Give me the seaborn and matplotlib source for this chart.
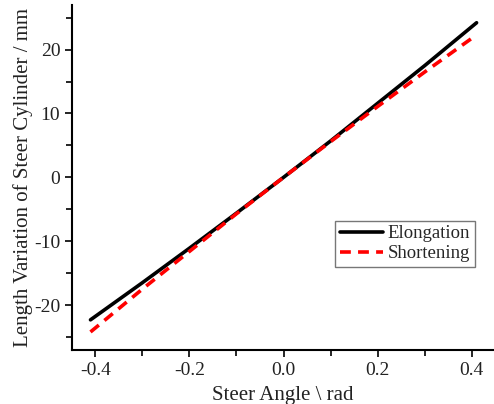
import numpy as np
import pandas as pd
import seaborn as sns
import matplotlib.pyplot as plt
from matplotlib.ticker import MultipleLocator

angle = [-0.41, -0.3, -0.2, -0.1, 0.0, 0.1, 0.2, 0.3, 0.41]
elongation = [-22.3, -16.5, -11.1, -5.6, 0.0, 5.7, 11.6, 17.5, 24.2]
shortening = [-24.2, -17.5, -11.6, -5.7, 0.0, 5.6, 11.1, 16.5, 22.3]

df = pd.DataFrame({"angle": angle, "Elongation": elongation, "Shortening": shortening})

sns.set_style("ticks")
plt.rcParams["font.family"] = ["Liberation Serif", "DejaVu Serif"]
plt.rcParams["axes.unicode_minus"] = False

fig = plt.figure(figsize=(4.94, 4.04), dpi=100)
ax = fig.add_axes([0.146, 0.134, 0.854, 0.854])

sns.lineplot(data=df, x="angle", y="Elongation", color="black", lw=2.6, label="Elongation", ax=ax)
sns.lineplot(data=df, x="angle", y="Shortening", color="#ff0000", lw=2.6, ls=(0, (3, 2)), label="Shortening", ax=ax)

ax.set_xlim(-0.449, 0.447)
ax.set_ylim(-27, 27)
ax.xaxis.set_minor_locator(MultipleLocator(0.1))
ax.yaxis.set_major_locator(MultipleLocator(10))
ax.yaxis.set_minor_locator(MultipleLocator(5))
ax.set_xticks([-0.4, -0.2, 0.0, 0.2, 0.4])
ax.set_xticklabels(["-0.4", "-0.2", "0.0", "0.2", "0.4"])
ax.tick_params(which="major", length=5, width=1.2, labelsize=14, color="black", labelcolor="#222222")
ax.tick_params(which="minor", length=4, width=1.2, color="black")
ax.tick_params(axis="both", which="both", direction="out")

for s in ["top", "right"]:
    ax.spines[s].set_visible(False)
for s in ["left", "bottom"]:
    ax.spines[s].set_linewidth(1.5)
    ax.spines[s].set_color("black")

ax.set_xlabel("Steer Angle \\ rad", fontsize=15, color="#222222", labelpad=5)
ax.set_ylabel("Length Variation of Steer Cylinder / mm", fontsize=15, color="#222222", labelpad=1)

leg = ax.legend(loc="lower right", bbox_to_anchor=(0.955, 0.24), fontsize=13.5, frameon=True,
                fancybox=False, edgecolor="#555555", handlelength=2.3, borderpad=0.25,
                labelspacing=0.15, handletextpad=0.25, borderaxespad=0)
leg.get_frame().set_linewidth(1.0)

fig.savefig("out.png", dpi=100)
